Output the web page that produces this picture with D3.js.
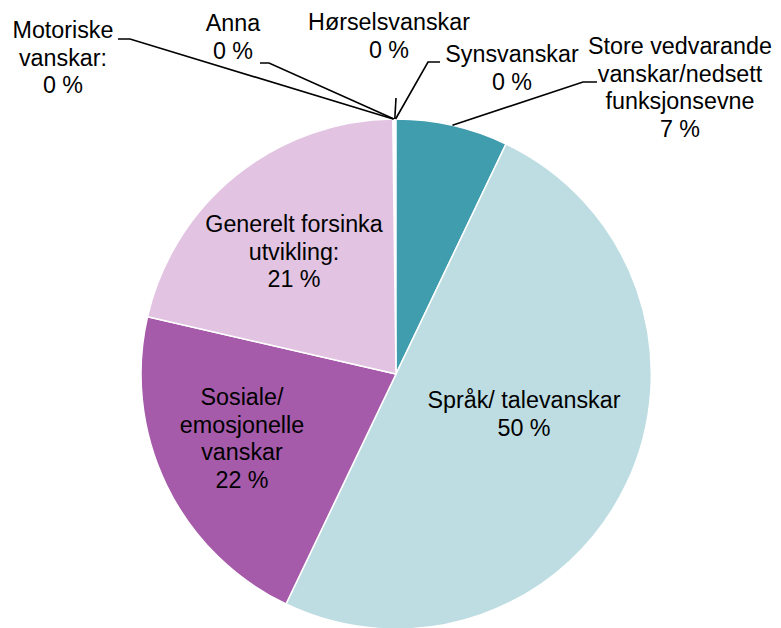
<!DOCTYPE html>
<html>
<head>
<meta charset="utf-8">
<script src="https://cdn.jsdelivr.net/npm/d3@7"></script>
<style>
  html, body { margin: 0; padding: 0; background: #fff; }
  svg text { font-family: "Liberation Sans", Arial, sans-serif; font-size: 23.3px; fill: #000; }
</style>
</head>
<body>
<svg id="chart" width="781" height="628"></svg>
<script>
// data, clockwise from 12 o'clock
const categories = [
    "Store vedvarande vanskar/nedsett funksjonsevne",
    "Språk/ talevanskar",
    "Sosiale/ emosjonelle vanskar",
    "Generelt forsinka utvikling:",
    "Motoriske vanskar:",
    "Anna",
    "Hørselsvanskar",
    "Synsvanskar"
];
const shares = [7.1, 50.0, 21.5, 21.2, 0.05, 0.05, 0.05, 0.05];
const colors = ["#3f9dae", "#bedde3", "#a65baa", "#e2c4e2", "#888", "#888", "#888", "#888"];

// how each label is broken into lines
const labelLines = [
    ["Store vedvarande", "vanskar/nedsett", "funksjonsevne"],
    ["Språk/ talevanskar"],
    ["Sosiale/", "emosjonelle", "vanskar"],
    ["Generelt forsinka", "utvikling:"],
    ["Motoriske", "vanskar:"],
    ["Anna"],
    ["Hørselsvanskar"],
    ["Synsvanskar"]
];

// label layout: centre x, first baseline, leader elbow/end (null = inside)
const labelLayout = [
    {x: 680, y: 54, leader: [[583, 82], [597, 82]]},
    {x: 524, y: 408, leader: null},
    {x: 242, y: 405, leader: null},
    {x: 294, y: 232, leader: null},
    {x: 63, y: 38, leader: [[130, 39], [118, 39]]},
    {x: 233, y: 31, leader: [[269, 63], [260, 63]]},
    {x: 389, y: 30, leader: [[396, 98]]},
    {x: 512, y: 62, leader: [[428, 62], [440, 62]]}
];

const cx = 396, cy = 374, radius = 255, lineH = 27.5;

const svg = d3.select("#chart");
const g = svg.append("g").attr("transform", `translate(${cx},${cy})`);

const rows = categories.map((c, i) => ({name: c, value: shares[i], i}));

const pie = d3.pie().value(d => d.value).sort(null);
const arc = d3.arc().innerRadius(0).outerRadius(radius);
const arcs = pie(rows);

g.selectAll("path.slice")
    .data(arcs.filter(d => d.data.value >= 1))
    .join("path")
    .attr("class", "slice")
    .attr("d", arc)
    .attr("fill", d => colors[d.data.i])
    .attr("stroke", "#fff")
    .attr("stroke-width", 1.5);

// leader lines from the slice's outer arc midpoint
const leaders = svg.append("g")
    .attr("fill", "none")
    .attr("stroke", "#000")
    .attr("stroke-width", 1.6);

arcs.forEach(d => {
    const lay = labelLayout[d.data.i];
    if (!lay.leader) return;
    const mid = (d.startAngle + d.endAngle) / 2;
    const start = [cx + radius * Math.sin(mid), cy - radius * Math.cos(mid)];
    leaders.append("path")
        .attr("d", d3.line()([start, ...lay.leader]));
});

// labels
const fmt = v => Math.round(v) + " %";
const labels = svg.append("g").attr("text-anchor", "middle");
arcs.forEach(d => {
    const lay = labelLayout[d.data.i];
    const lines = labelLines[d.data.i].concat([fmt(d.data.value)]);
    const t = labels.append("text").attr("x", lay.x).attr("y", lay.y);
    lines.forEach((s, k) => {
        t.append("tspan").attr("x", lay.x).attr("dy", k === 0 ? 0 : lineH).text(s);
    });
});
</script>
</body>
</html>
